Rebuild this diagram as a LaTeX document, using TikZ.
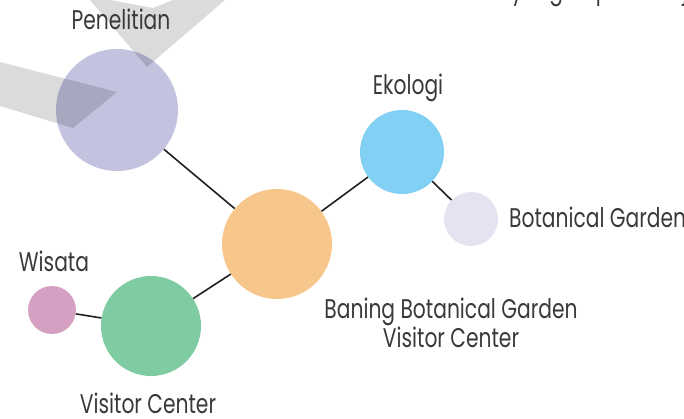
\documentclass[tikz,border=0pt]{standalone}
\usepackage{fontspec}
\setmainfont{Poppins}[FakeStretch=0.75]
\begin{document}
\begin{tikzpicture}[x=1pt,y=-1pt,
  bubble/.style={circle,inner sep=0pt},
  tag/.style={text=ink,font=\fontsize{27}{29}\selectfont,inner sep=0pt},
  link/.style={draw=wire,line width=1.6pt}]
 \definecolor{ink}{RGB}{60,56,56}
 \definecolor{wire}{RGB}{35,31,32}
 \definecolor{c1}{RGB}{195,195,224}
 \definecolor{c2}{RGB}{247,198,138}
 \definecolor{c3}{RGB}{130,208,243}
 \definecolor{c4}{RGB}{229,227,242}
 \definecolor{c5}{RGB}{127,204,162}
 \definecolor{c6}{RGB}{214,160,195}
 \useasboundingbox (0,0) rectangle (684,419);
 % bubbles
 \foreach \nm/\col/\xp/\yp/\rr in {
   pen/c1/117/110/122, bbg/c2/277/244/110,
   eko/c3/402/152/84, botg/c4/471/219/54,
   vc/c5/151/326/100, wis/c6/52/310/48
 } {
   \node[bubble,fill=\col,minimum size=\rr pt] (\nm) at (\xp,\yp) {};
 }
 % links
 \draw[link] (pen) -- (bbg);
 \draw[link] (bbg) -- (eko);
 \draw[link] (eko) -- (botg);
 \draw[link] (bbg) -- (vc);
 \draw[link] (vc) -- (wis);
 % grey marks
 \begin{scope}[fill=black,fill opacity=.14]
   \fill (0,62) -- (117,92) -- (73,128) -- (0,106) -- cycle;
   \fill (90,0) -- (147,67) -- (225,0) -- (173,0)
     -- (153,8) -- (110,0) -- cycle;
 \end{scope}
 % labels
 \node[tag,anchor=base] (penL) at (121,30) {Penelitian};
 \node[tag,anchor=base] (ekoL) at (408,95) {Ekologi};
 \node[tag,anchor=base west] (botgL) at (509,228) {Botanical Garden};
 \node[tag,anchor=north,align=center] (bbgL) at (451,298)
   {Baning Botanical Garden\\Visitor Center};
 \node[tag,anchor=base] (wisL) at (54,271) {Wisata};
 \node[tag,anchor=base] (vcL) at (148,413) {Visitor Center};
 \node[tag,anchor=base west] (topL) at (368,0)
   {aktivitas baru yang dapat menjadikan};
\end{tikzpicture}
\end{document}
